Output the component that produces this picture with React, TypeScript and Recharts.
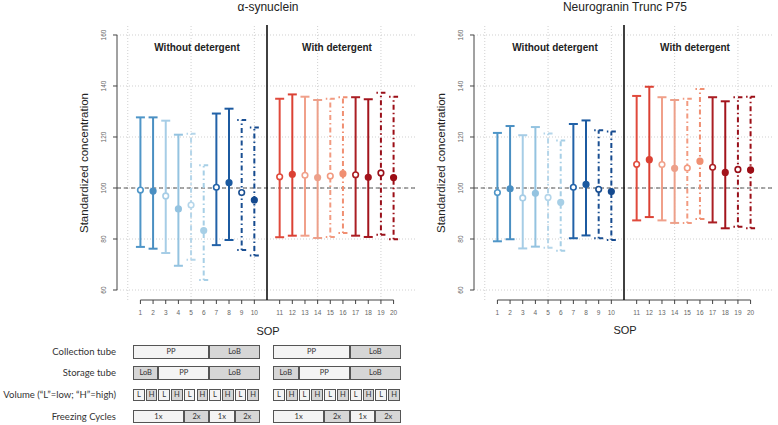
import React from "react";
import {
  ComposedChart,
  Scatter,
  ErrorBar,
  XAxis,
  YAxis,
  ReferenceLine,
} from "recharts";

// SOP 1-10 without detergent, 11-20 with detergent
const SOPS = [1, 2, 3, 4, 5, 6, 7, 8, 9, 10, 11, 12, 13, 14, 15, 16, 17, 18, 19, 20];

const SYN_MEAN = [99.2, 98.8, 96.9, 91.8, 93.3, 83.3, 100.3, 102.1, 98.2, 95.3, 104.4, 105.4, 105.0, 104.1, 104.7, 105.6, 105.2, 104.2, 105.9, 104.1];
const SYN_LOW = [76.9, 76.2, 74.5, 69.5, 71.9, 63.9, 77.6, 79.6, 75.7, 73.5, 80.7, 81.3, 81.3, 80.4, 80.8, 82.4, 81.3, 80.8, 81.7, 79.9];
const SYN_HIGH = [127.7, 127.7, 126.4, 120.9, 121.3, 108.9, 129.2, 131.1, 126.7, 123.7, 135.0, 136.7, 135.8, 134.5, 135.0, 135.6, 135.6, 134.8, 137.4, 135.8];

const NRG_MEAN = [98.2, 99.7, 96.1, 97.9, 96.3, 94.4, 100.3, 101.4, 99.5, 98.6, 109.3, 111.1, 109.2, 107.7, 107.8, 110.5, 108.1, 106.1, 107.3, 107.1];
const NRG_LOW = [79.1, 79.9, 76.3, 77.0, 76.6, 75.4, 80.3, 81.4, 80.3, 79.6, 87.3, 88.6, 87.3, 86.3, 86.3, 87.8, 86.5, 84.2, 84.8, 84.2];
const NRG_HIGH = [121.6, 124.3, 120.7, 123.9, 121.4, 118.6, 125.1, 126.5, 122.6, 122.2, 136.1, 139.7, 135.6, 134.5, 135.0, 138.8, 135.6, 134.0, 135.6, 135.8];

const SOP_COLORS = [
  "#4f96c8", "#4a8fc2", "#a6cde6", "#94c3e0", "#b5d6ea", "#a7cfe6", "#2262a8", "#1c5aa0", "#1a4f92", "#154a8f",
  "#e04a3c", "#db4134", "#f0a08a", "#eda08a", "#f29a80", "#f08f72", "#ab1f24", "#a3141c", "#99101a", "#9c0e16",
];
// 2x freezing cycles are drawn dot-dashed, high volume filled
const SOP_DOTDASH = SOPS.map((s) => [5, 6, 9, 10].includes(((s - 1) % 10) + 1));
const SOP_FILLED = SOPS.map((s) => s % 2 === 0);

const Y_TICKS = [60, 80, 100, 120, 140, 160];
const X_GRID = [0, 5, 10, 15, 20];

// table under the charts
const ROW_LABELS = ["Collection tube", "Storage tube", "Volume (\u201cL\u201d=low; \u201cH\u201d=high)", "Freezing Cycles"];
const COLLECTION = [
  { label: "PP", span: 6, shade: false },
  { label: "LoB", span: 4, shade: true },
];
const STORAGE = [
  { label: "LoB", span: 2, shade: true },
  { label: "PP", span: 4, shade: false },
  { label: "LoB", span: 4, shade: true },
];
const VOLUME = ["L", "H", "L", "H", "L", "H", "L", "H", "L", "H"].map((v) => ({
  label: v,
  span: 1,
  shade: v === "H",
}));
const FREEZING = [
  { label: "1x", span: 4, shade: false },
  { label: "2x", span: 2, shade: true },
  { label: "1x", span: 2, shade: false },
  { label: "2x", span: 2, shade: true },
];

const X_DOMAIN = [-0.85, 22.85];
const Y_DOMAIN = [56.08, 163.92];
const AXIS_FONT = "'Liberation Sans', Arial, sans-serif";

const toVirtual = (sop: number) => (sop <= 10 ? sop : sop + 1);

const YTick = (props: any) => {
  const { x, y, payload } = props;
  const bx = x - 5;
  return (
    <text
      x={bx}
      y={y}
      transform={`rotate(-90 ${bx} ${y})`}
      textAnchor="middle"
      fontSize={6.5}
      fontFamily={AXIS_FONT}
      fill="#666"
    >
      {payload.value}
    </text>
  );
};

function Panel({
  left,
  mean,
  low,
  high,
}: {
  left: number;
  mean: number[];
  low: number[];
  high: number[];
}) {
  return (
    <div style={{ position: "absolute", left, top: 0 }}>
      <ComposedChart
        width={430}
        height={345}
        margin={{ top: 25, right: 13, bottom: 0, left: 0 }}
      >
        <XAxis
          type="number"
          dataKey="x"
          domain={X_DOMAIN}
          allowDataOverflow
          ticks={SOPS.map(toVirtual)}
          interval={0}
          tickFormatter={(v: number) => String(v <= 10 ? v : v - 1)}
          axisLine={false}
          tickLine={{ stroke: "#444" }}
          tickSize={4}
          tickMargin={6}
          height={45}
          tick={{ fontSize: 6.5, fill: "#666", fontFamily: AXIS_FONT }}
        />
        <YAxis
          type="number"
          dataKey="y"
          domain={Y_DOMAIN}
          allowDataOverflow
          ticks={Y_TICKS}
          axisLine={false}
          tickLine={{ stroke: "#444" }}
          tickSize={4}
          width={117}
          tick={<YTick />}
        />
        {Y_TICKS.map((v) => (
          <ReferenceLine key={"h" + v} y={v} stroke="#d0d0d0" strokeDasharray="1 2" />
        ))}
        {X_GRID.map((v) => (
          <ReferenceLine key={"v" + v} x={v} stroke="#d0d0d0" strokeDasharray="1 2" />
        ))}
        <ReferenceLine
          segment={[{ x: X_DOMAIN[0], y: 60 }, { x: X_DOMAIN[0], y: 160 }]}
          stroke="#444"
          ifOverflow="visible"
        />
        <ReferenceLine
          segment={[{ x: 1, y: Y_DOMAIN[0] }, { x: 21, y: Y_DOMAIN[0] }]}
          stroke="#444"
          ifOverflow="visible"
        />
        <ReferenceLine y={100} stroke="#555" strokeDasharray="4 3" />
        <ReferenceLine x={11} stroke="#111" strokeWidth={1.6} />
        {SOPS.map((sop, i) => {
          const color = SOP_COLORS[i];
          const filled = SOP_FILLED[i];
          return (
            <Scatter
              key={sop}
              name={"SOP " + sop}
              data={[
                {
                  x: toVirtual(sop),
                  y: mean[i],
                  err: [mean[i] - low[i], high[i] - mean[i]],
                },
              ]}
              isAnimationActive={false}
              shape={(p: any) => (
                <circle
                  cx={p.cx}
                  cy={p.cy}
                  r={2.8}
                  fill={filled ? color : "#fff"}
                  stroke={color}
                  strokeWidth={1.6}
                />
              )}
            >
              <ErrorBar
                dataKey="err"
                direction="y"
                width={4.5}
                stroke={color}
                strokeWidth={2}
                strokeDasharray={SOP_DOTDASH[i] ? "1.5 3 5 3" : undefined}
                isAnimationActive={false}
              />
            </Scatter>
          );
        })}
      </ComposedChart>
    </div>
  );
}

type Seg = { label: string; span: number; shade: boolean };

function TableRow({ segs, left, top, height, unit, gap }: { segs: Seg[]; left: number; top: number; height: number; unit: number; gap: boolean }) {
  let acc = 0;
  return (
    <>
      {segs.map((s, i) => {
        const x = left + acc * unit;
        acc += s.span;
        return (
          <div
            key={i}
            style={{
              position: "absolute",
              left: x,
              top,
              width: s.span * unit - (gap ? 1 : 0),
              height,
              boxSizing: "border-box",
              border: "1px solid #555",
              background: s.shade ? "#d6d6d6" : "#f4f4f4",
              fontSize: 7.5,
              lineHeight: height - 2 + "px",
              textAlign: "center",
              color: "#333",
              fontFamily: "Lato, 'Open Sans', sans-serif",
            }}
          >
            {s.label}
          </div>
        );
      })}
    </>
  );
}

const ROWS: { segs: Seg[]; top: number; height: number; gap: boolean }[] = [
  { segs: COLLECTION, top: 345, height: 14, gap: false },
  { segs: STORAGE, top: 366, height: 14, gap: false },
  { segs: VOLUME, top: 389, height: 12, gap: true },
  { segs: FREEZING, top: 410, height: 13, gap: false },
];

export default function App() {
  const text = (
    x: number,
    y: number,
    s: string,
    size: number,
    bold = false,
    rotate = false
  ) => (
    <text
      x={x}
      y={y}
      textAnchor="middle"
      dominantBaseline="central"
      fontSize={size}
      fontWeight={bold ? "bold" : "normal"}
      fontFamily={AXIS_FONT}
      fill="#222"
      transform={rotate ? `rotate(-90 ${x} ${y})` : undefined}
    >
      {s}
    </text>
  );
  return (
    <div
      style={{
        position: "absolute",
        left: 0,
        top: 0,
        width: 778,
        height: 425,
        background: "#fff",
        overflow: "hidden",
      }}
    >
      <Panel left={0} mean={SYN_MEAN} low={SYN_LOW} high={SYN_HIGH} />
      <Panel left={357} mean={NRG_MEAN} low={NRG_LOW} high={NRG_HIGH} />
      <svg
        width={778}
        height={425}
        style={{ position: "absolute", left: 0, top: 0, pointerEvents: "none" }}
      >
        {text(268, 7, "\u03b1-synuclein", 12)}
        {text(625, 7, "Neurogranin Trunc P75", 12)}
        {text(197, 47, "Without detergent", 10, true)}
        {text(337, 47, "With detergent", 10, true)}
        {text(555, 47, "Without detergent", 10, true)}
        {text(695, 47, "With detergent", 10, true)}
        {text(84, 163, "Standardized concentration", 11.5, false, true)}
        {text(441, 163, "Standardized concentration", 11.5, false, true)}
        {text(268, 331, "SOP", 11)}
        {text(625, 330, "SOP", 11)}
      </svg>
      {ROWS.map((r, i) => (
        <div
          key={"l" + i}
          style={{
            position: "absolute",
            left: 0,
            width: 116,
            top: r.top,
            height: r.height,
            lineHeight: r.height + "px",
            textAlign: "right",
            fontSize: 9.5,
            color: "#333",
            fontFamily: "Lato, 'Open Sans', sans-serif",
            whiteSpace: "nowrap",
          }}
        >
          {ROW_LABELS[i]}
        </div>
      ))}
      {ROWS.map((r, i) => (
        <React.Fragment key={"t" + i}>
          <TableRow segs={r.segs} left={133} top={r.top} height={r.height} unit={12.7} gap={r.gap} />
          <TableRow segs={r.segs} left={273} top={r.top} height={r.height} unit={12.8} gap={r.gap} />
        </React.Fragment>
      ))}
    </div>
  );
}
